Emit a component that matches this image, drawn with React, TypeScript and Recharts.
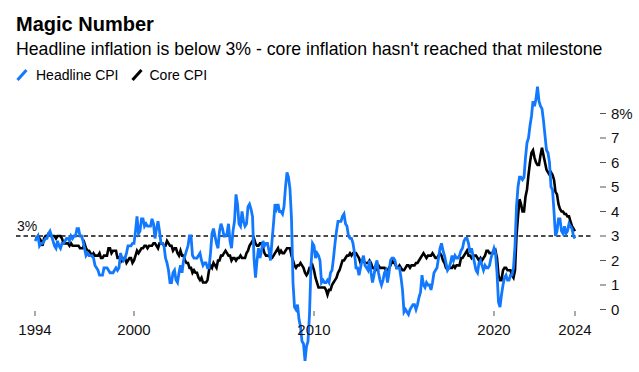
import React from 'react';
import { LineChart, Line, XAxis, YAxis, ReferenceLine } from 'recharts';

// monthly y/y % change, Jul 1994 .. Jul 2024
const START = 1994.5;

const headlineCpi = [
    2.8, 2.9, 3.0, 2.6, 2.7, 2.7, // 1994 (Jul-Dec)
    2.8, 2.9, 2.9, 3.1, 3.2, 3.0, 2.8, 2.6, 2.5, 2.8, 2.6, 2.5, // 1995
    2.7, 2.7, 2.8, 2.9, 2.9, 2.8, 3.0, 2.9, 3.0, 3.0, 3.3, 3.3, // 1996
    3.0, 3.0, 2.8, 2.5, 2.2, 2.3, 2.2, 2.2, 2.2, 2.1, 1.8, 1.7, // 1997
    1.6, 1.4, 1.4, 1.4, 1.7, 1.7, 1.7, 1.6, 1.5, 1.5, 1.5, 1.6, // 1998
    1.7, 1.6, 1.7, 2.3, 2.1, 2.0, 2.1, 2.3, 2.6, 2.6, 2.6, 2.7, // 1999
    2.7, 3.2, 3.8, 3.1, 3.2, 3.7, 3.7, 3.4, 3.5, 3.4, 3.4, 3.4, // 2000
    3.7, 3.5, 2.9, 3.3, 3.6, 3.2, 2.7, 2.7, 2.6, 2.1, 1.9, 1.6, // 2001
    1.1, 1.1, 1.5, 1.6, 1.2, 1.1, 1.5, 1.8, 1.5, 2.0, 2.2, 2.4, // 2002
    2.6, 3.0, 3.0, 2.2, 2.1, 2.1, 2.1, 2.2, 2.3, 2.0, 1.8, 1.9, // 2003
    1.9, 1.7, 1.7, 2.3, 3.1, 3.3, 3.0, 2.7, 2.5, 3.2, 3.5, 3.3, // 2004
    3.0, 3.0, 3.1, 3.5, 2.8, 2.5, 3.2, 3.6, 4.7, 4.3, 3.5, 3.4, // 2005
    4.0, 3.6, 3.4, 3.5, 4.2, 4.3, 4.1, 3.8, 2.1, 1.3, 2.0, 2.5, // 2006
    2.1, 2.4, 2.8, 2.6, 2.7, 2.7, 2.4, 2.0, 2.8, 3.5, 4.3, 4.1, // 2007
    4.3, 4.0, 4.0, 3.9, 4.2, 5.0, 5.6, 5.4, 4.9, 3.7, 1.1, 0.1, // 2008
    0.0, 0.2, -0.4, -0.7, -1.3, -1.4, -2.1, -1.5, -1.3, -0.2, 1.8, 2.7, // 2009
    2.6, 2.1, 2.3, 2.2, 2.0, 1.1, 1.2, 1.1, 1.1, 1.2, 1.1, 1.5, // 2010
    1.6, 2.1, 2.7, 3.2, 3.6, 3.6, 3.6, 3.8, 3.9, 3.5, 3.4, 3.0, // 2011
    2.9, 2.9, 2.7, 2.3, 1.7, 1.7, 1.4, 1.7, 2.0, 2.2, 1.8, 1.7, // 2012
    1.6, 2.0, 1.5, 1.1, 1.4, 1.8, 2.0, 1.5, 1.2, 1.0, 1.2, 1.5, // 2013
    1.6, 1.1, 1.5, 2.0, 2.1, 2.1, 2.0, 1.7, 1.7, 1.7, 1.3, 0.8, // 2014
    -0.1, 0.0, -0.1, -0.2, 0.0, 0.1, 0.2, 0.2, 0.0, 0.2, 0.5, 0.7, // 2015
    1.4, 1.0, 0.9, 1.1, 1.0, 1.0, 0.8, 1.1, 1.5, 1.6, 1.7, 2.1, // 2016
    2.5, 2.7, 2.4, 2.2, 1.9, 1.6, 1.7, 1.9, 2.2, 2.0, 2.2, 2.1, // 2017
    2.1, 2.2, 2.4, 2.5, 2.8, 2.9, 2.9, 2.7, 2.3, 2.5, 2.2, 1.9, // 2018
    1.6, 1.5, 1.9, 2.0, 1.8, 1.6, 1.8, 1.7, 1.7, 1.8, 2.1, 2.3, // 2019
    2.5, 2.3, 1.5, 0.3, 0.1, 0.6, 1.0, 1.3, 1.4, 1.2, 1.2, 1.4, // 2020
    1.4, 1.7, 2.6, 4.2, 5.0, 5.4, 5.4, 5.3, 5.4, 6.2, 6.8, 7.0, // 2021
    7.5, 7.9, 8.5, 8.3, 8.6, 9.1, 8.5, 8.3, 8.2, 7.7, 7.1, 6.5, // 2022
    6.4, 6.0, 5.0, 4.9, 4.0, 3.0, 3.2, 3.7, 3.7, 3.2, 3.1, 3.4, // 2023
    3.1, 3.2, 3.5, 3.4, 3.3, 3.0, 2.9, // 2024 (Jan-Jul)
];

const coreCpi = [
    2.9, 2.9, 3.0, 2.9, 2.8, 2.6, // 1994 (Jul-Dec)
    2.9, 3.0, 3.0, 3.1, 3.1, 3.0, 3.0, 3.0, 2.9, 3.0, 3.0, 3.0, // 1995
    2.9, 2.7, 2.7, 2.7, 2.7, 2.6, 2.7, 2.6, 2.6, 2.6, 2.6, 2.6, // 1996
    2.5, 2.5, 2.5, 2.7, 2.5, 2.4, 2.4, 2.3, 2.2, 2.3, 2.2, 2.2, // 1997
    2.2, 2.3, 2.1, 2.1, 2.2, 2.2, 2.2, 2.5, 2.5, 2.3, 2.4, 2.4, // 1998
    2.4, 2.1, 2.1, 2.2, 2.0, 2.1, 2.1, 1.9, 2.0, 2.1, 2.1, 1.9, // 1999
    2.0, 2.2, 2.4, 2.3, 2.4, 2.5, 2.5, 2.6, 2.6, 2.5, 2.6, 2.6, // 2000
    2.6, 2.7, 2.7, 2.6, 2.5, 2.7, 2.7, 2.7, 2.6, 2.6, 2.8, 2.7, // 2001
    2.6, 2.6, 2.4, 2.5, 2.5, 2.3, 2.2, 2.4, 2.2, 2.2, 2.0, 1.9, // 2002
    1.9, 1.7, 1.7, 1.5, 1.6, 1.5, 1.5, 1.3, 1.2, 1.3, 1.1, 1.1, // 2003
    1.1, 1.2, 1.6, 1.8, 1.7, 1.9, 1.8, 1.7, 2.0, 2.0, 2.2, 2.2, // 2004
    2.3, 2.4, 2.3, 2.2, 2.2, 2.0, 2.1, 2.1, 2.0, 2.1, 2.1, 2.2, // 2005
    2.1, 2.1, 2.1, 2.3, 2.4, 2.6, 2.7, 2.8, 2.9, 2.7, 2.6, 2.6, // 2006
    2.7, 2.7, 2.5, 2.3, 2.2, 2.2, 2.2, 2.1, 2.1, 2.2, 2.3, 2.4, // 2007
    2.5, 2.3, 2.4, 2.3, 2.3, 2.4, 2.5, 2.5, 2.5, 2.2, 2.0, 1.8, // 2008
    1.7, 1.8, 1.8, 1.9, 1.8, 1.7, 1.5, 1.4, 1.5, 1.7, 1.7, 1.8, // 2009
    1.6, 1.3, 1.1, 0.9, 0.9, 0.9, 0.9, 0.9, 0.8, 0.6, 0.8, 0.8, // 2010
    1.0, 1.1, 1.2, 1.3, 1.5, 1.6, 1.8, 2.0, 2.0, 2.1, 2.2, 2.2, // 2011
    2.3, 2.2, 2.3, 2.3, 2.3, 2.2, 2.1, 1.9, 2.0, 2.0, 1.9, 1.9, // 2012
    1.9, 2.0, 1.9, 1.7, 1.7, 1.6, 1.7, 1.8, 1.7, 1.7, 1.7, 1.7, // 2013
    1.6, 1.6, 1.7, 1.8, 2.0, 1.9, 1.9, 1.7, 1.7, 1.8, 1.7, 1.6, // 2014
    1.6, 1.7, 1.8, 1.8, 1.7, 1.8, 1.8, 1.8, 1.9, 1.9, 2.0, 2.1, // 2015
    2.2, 2.3, 2.2, 2.1, 2.2, 2.2, 2.2, 2.3, 2.2, 2.1, 2.1, 2.2, // 2016
    2.3, 2.2, 2.0, 1.9, 1.7, 1.7, 1.7, 1.7, 1.7, 1.8, 1.7, 1.8, // 2017
    1.8, 1.8, 2.1, 2.1, 2.2, 2.3, 2.4, 2.2, 2.2, 2.1, 2.2, 2.2, // 2018
    2.2, 2.1, 2.0, 2.1, 2.0, 2.1, 2.2, 2.4, 2.4, 2.3, 2.3, 2.3, // 2019
    2.3, 2.4, 2.1, 1.4, 1.2, 1.2, 1.6, 1.7, 1.7, 1.6, 1.6, 1.6, // 2020
    1.4, 1.3, 1.6, 3.0, 3.8, 4.5, 4.3, 4.0, 4.0, 4.6, 4.9, 5.5, // 2021
    6.0, 6.4, 6.5, 6.2, 6.0, 5.9, 5.9, 6.3, 6.6, 6.3, 6.0, 5.7, // 2022
    5.6, 5.5, 5.6, 5.5, 5.3, 4.8, 4.7, 4.3, 4.1, 4.0, 4.0, 3.9, // 2023
    3.9, 3.8, 3.8, 3.6, 3.4, 3.3, 3.2, // 2024 (Jan-Jul)
];

const xTicks = [1994.5, 2000, 2010, 2020, 2024.5];
const yTicks = [0, 1, 2, 3, 4, 5, 6, 7, 8];

const BLUE = '#1279ff';
const FONT = '"Liberation Sans", Arial, Helvetica, sans-serif';

const chartData = headlineCpi.map((v, i) => ({
    t: START + i / 12,
    headline: v,
    core: coreCpi[i],
}));

function renderXTick(props: any) {
    const { x, payload } = props;
    return (
        <g key={payload.value}>
            <line x1={x} x2={x} y1={311} y2={316} stroke="#555" strokeWidth={1} />
            <text x={x} y={335} textAnchor="middle" fontSize={15} fill="#111" fontFamily={FONT}>
                {Math.floor(payload.value)}
            </text>
        </g>
    );
}

function ThreeLabel(props: any) {
    const { viewBox } = props;
    if (!viewBox) return null;
    return (
        <text x={viewBox.x + 1} y={viewBox.y - 5} fontSize={14} fill="#111" fontFamily={FONT}>
            3%
        </text>
    );
}

function Slash({ color }: { color: string }) {
    return (
        <svg width={12} height={12} style={{ display: 'block' }}>
            <line x1={1.5} y1={11} x2={10.5} y2={1} stroke={color} strokeWidth={3} />
        </svg>
    );
}

export default function App() {
    return (
        <div
            style={{
                position: 'absolute',
                left: 0,
                top: 0,
                width: 639,
                height: 372,
                background: '#fff',
                fontFamily: FONT,
                color: '#000',
            }}
        >
            <div style={{ position: 'absolute', left: 16, top: 14, fontSize: 20, lineHeight: '20px', fontWeight: 700 }}>
                Magic Number
            </div>
            <div style={{ position: 'absolute', left: 16, top: 41, fontSize: 17.7, lineHeight: '17.7px', whiteSpace: 'nowrap' }}>
                Headline inflation is below 3% - core inflation hasn't reached that milestone
            </div>
            <div style={{ position: 'absolute', left: 16, top: 68, display: 'flex', alignItems: 'center', fontSize: 14, lineHeight: '14px' }}>
                <Slash color={BLUE} />
                <span style={{ marginLeft: 8 }}>Headline CPI</span>
                <span style={{ marginLeft: 12 }}><Slash color="#000" /></span>
                <span style={{ marginLeft: 7 }}>Core CPI</span>
            </div>

            <div style={{ position: 'absolute', left: 0, top: 0 }}>
                <LineChart
                    width={639}
                    height={372}
                    data={chartData}
                    margin={{ top: 76.75, right: 0, bottom: 0.25, left: 16 }}
                >
                    <XAxis
                        dataKey="t"
                        type="number"
                        domain={[1993.444, 2025.889]}
                        ticks={xTicks}
                        height={1}
                        axisLine={false}
                        tickLine={false}
                        tick={renderXTick}
                        interval={0}
                        allowDataOverflow
                    />
                    <YAxis
                        orientation="right"
                        domain={[-2.5, 9.5]}
                        ticks={yTicks}
                        width={39}
                        axisLine={false}
                        tickSize={6}
                        tickMargin={5}
                        tickLine={{ stroke: '#555' }}
                        tick={{ fontSize: 15, fill: '#111', fontFamily: FONT }}
                        tickFormatter={(v: number) => (v === 8 ? '8%' : String(v))}
                        interval={0}
                        allowDataOverflow
                    />
                    <ReferenceLine
                        segment={[{ x: 1993.444, y: 3 }, { x: 2025.444, y: 3 }]}
                        stroke="#111"
                        strokeWidth={1.5}
                        strokeDasharray="4.5 3"
                        label={<ThreeLabel />}
                    />
                    <Line
                        type="linear"
                        dataKey="core"
                        stroke="#000"
                        strokeWidth={2.6}
                        dot={false}
                        isAnimationActive={false}
                    />
                    <Line
                        type="linear"
                        dataKey="headline"
                        stroke={BLUE}
                        strokeWidth={2.8}
                        dot={false}
                        isAnimationActive={false}
                    />
                </LineChart>
            </div>
        </div>
    );
}
